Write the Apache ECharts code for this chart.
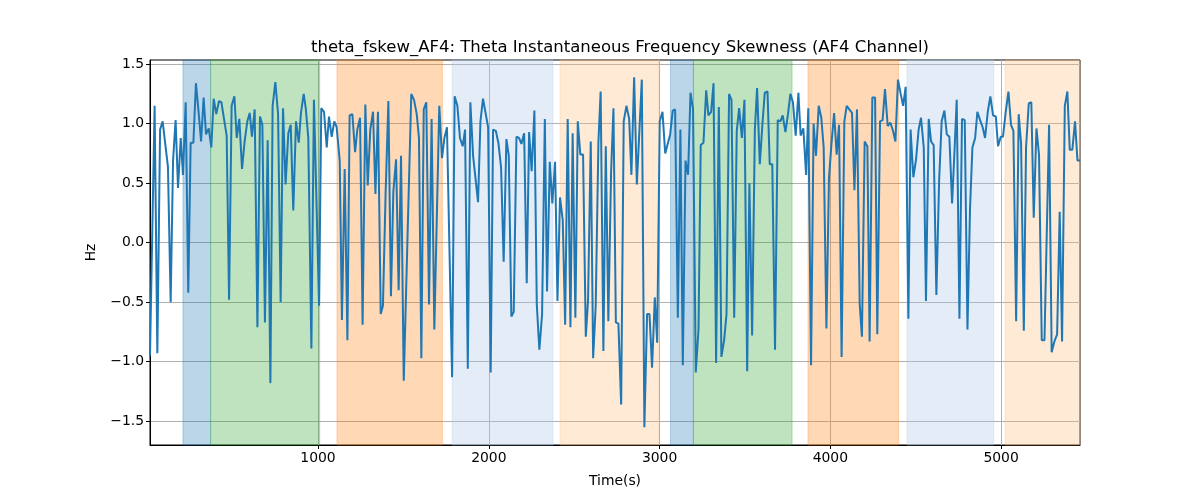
<!DOCTYPE html>
<html>
<head>
<meta charset="utf-8">
<script src="https://cdn.jsdelivr.net/npm/echarts@6/dist/echarts.min.js"></script>
<style>html,body{margin:0;padding:0;background:#fff}#c{width:1200px;height:500px}</style>
</head>
<body>
<div id="c"></div>
<script>
const times = [16,43,59,75,90,121,137,151,166,180,196,209,225,240,254,270,285,301,315,330,344,360,375,389,404,420,434,465,479,494,510,524,539,555,570,586,600,613,629,645,660,674,689,705,721,734,750,766,781,795,810,826,840,855,871,887,900,916,
928,943,961,976,1006,1019,1035,1051,1064,1080,1095,1109,1127,1140,1156,1172,1185,1201,1217,1230,1246,1261,1277,1291,1306,1322,1336,1351,1367,1380,1396,1412,1427,1441,1457,1472,1486,1502,1546,1562,1578,1591,1605,1619,1634,1650,1665,1681,1710,1726,1740,1755,1785,1800,1816,1831,
1847,1861,1877,1892,1908,1937,1951,1966,1996,2011,2025,2041,2056,2072,2087,2103,2117,2132,2146,2162,2177,2191,2207,2222,2236,2251,2267,2281,2296,2312,2328,2341,2357,2372,2388,2402,2417,2433,2447,2462,2478,2491,2507,2521,2536,2552,2568,2581,2597,2611,2626,2642,2655,2671,2685,2700,2716,2730,
2744,2759,2775,2790,2806,2822,2835,2851,2867,2896,2911,2927,2941,2956,2972,2986,3001,3017,3033,3062,3077,3091,3107,3122,3136,3152,3167,3181,3196,3212,3228,3241,3257,3273,3286,3302,3316,3331,3347,3362,3378,3392,3407,3421,3437,3452,3466,3482,3497,3513,3526,3542,3558,3571,3587,3603,3616,3632,3645,
3660,3676,3692,3707,3721,3737,3752,3766,3781,3797,3813,3826,3842,3858,3871,3887,3902,3916,3932,3947,3961,3977,3992,4006,4022,4037,4051,4066,4082,4096,4111,4127,4141,4156,4172,4185,4201,4217,4230,4246,4262,4275,4291,4306,4320,4336,4351,4367,4381,4396,4412,4426,4441,4457,4470,4486,4502,4517,4531,4547,4560,
4576,4590,4605,4621,4637,4652,4668,4682,4697,4713,4728,4740,4756,4771,4787,4803,4818,4832,4848,4861,4877,4892,4906,4922,4937,4953,4969,4982,4998,5011,5027,5043,5058,5072,5088,5103,5117,5133,5146,5162,5177,5191,5207,5222,5238,5254,5281,5296,5312,5328,5343,5357,5373,5388,5402,5417,5433,5447,5462];

const values = [-0.95,1.15,-0.93,0.95,1.02,0.64,-0.50,0.69,1.03,0.46,0.88,0.57,1.18,-0.42,0.84,0.84,1.34,1.09,0.85,1.22,0.91,0.96,0.80,1.21,1.08,1.19,1.18,0.90,-0.48,1.15,1.23,0.88,1.04,0.62,0.85,1.02,1.09,0.89,1.12,-0.71,1.06,0.99,-0.67,0.86,-1.18,1.15,1.35,1.08,-0.50,1.13,0.49,0.92,0.99,0.27,1.02,0.84,1.09,1.25,
1.13,0.88,-0.89,1.20,-0.53,1.13,1.10,0.80,1.06,0.89,1.02,0.97,0.69,-0.65,0.62,-0.82,1.07,1.08,0.76,0.95,1.05,-0.69,1.16,0.48,0.95,1.10,0.41,1.10,-0.60,-0.53,0.43,1.19,-0.45,0.43,0.70,-0.40,0.73,-1.16,1.25,1.20,1.08,0.88,-0.97,1.12,1.18,-0.52,1.04,-0.73,1.15,0.71,0.88,0.97,-1.13,1.23,1.15,0.88,
0.81,0.95,-1.06,1.18,0.73,0.34,1.02,1.21,0.97,-1.09,0.95,0.94,0.84,0.63,-0.16,0.87,0.73,-0.62,-0.58,0.89,0.88,0.83,0.92,-0.34,0.93,0.60,1.11,-0.52,-0.90,-0.60,1.04,-0.41,0.68,0.33,0.68,-0.49,0.38,0.19,-0.69,1.04,-0.71,0.92,-0.63,1.02,0.74,0.74,-0.79,-0.49,0.85,-0.97,-0.53,0.85,1.27,-0.91,0.81,-0.66,0.59,1.13,
-0.67,-0.68,-1.36,1.02,1.15,1.04,0.57,1.39,0.49,1.37,-1.55,-0.60,-0.60,-1.05,-0.46,-0.84,1.02,1.10,0.75,0.91,1.11,1.12,-0.63,0.95,-1.03,0.69,0.57,1.26,1.12,-1.09,-0.73,0.82,0.84,1.28,1.07,1.10,1.34,-1.01,1.14,-0.96,-0.82,-0.60,1.25,1.20,-0.63,0.94,1.13,0.88,1.20,-1.08,0.50,-0.78,0.95,1.30,0.66,1.01,1.26,1.27,0.66,
0.66,-0.90,1.03,1.02,1.07,0.93,1.08,1.25,1.18,0.90,1.26,0.90,0.96,0.57,1.13,-1.03,1.00,0.73,1.15,1.05,0.80,-0.72,0.54,0.82,1.09,0.74,0.99,-0.96,1.02,1.15,1.12,1.09,0.44,1.12,-0.52,-0.79,0.85,0.81,-0.83,1.22,1.22,-0.77,1.02,1.03,1.29,0.98,1.01,0.94,0.85,1.37,1.25,1.15,1.31,-0.64,0.95,0.55,0.70,0.95,1.05,0.80,-0.49,
1.04,0.85,0.82,-0.44,0.52,1.02,1.11,0.91,0.89,0.33,0.80,1.20,-0.64,1.04,1.03,-0.73,0.29,0.80,0.88,1.10,1.03,0.97,0.88,1.10,1.23,1.07,1.06,0.81,0.89,0.89,1.10,1.27,0.99,0.94,-0.66,1.08,0.83,-0.74,0.80,1.17,1.18,0.21,0.96,0.74,-0.82,-0.82,0.99,-0.92,-0.83,-0.77,0.26,-0.83,1.15,1.27,0.78,0.78,1.02,0.69,0.69];

const bandStarts = [209, 371, 1111, 1785, 2417, 3064, 3198, 3869, 4449, 5023];
const bandEnds   = [371, 1010, 1728, 2376, 2995, 3198, 3776, 4400, 4957, 5462];
const bandColors = ['rgba(31,119,180,0.3)','rgba(44,160,44,0.3)','rgba(255,127,14,0.3)','rgba(174,199,232,0.33)','rgba(255,187,120,0.3)',
                    'rgba(31,119,180,0.3)','rgba(44,160,44,0.3)','rgba(255,127,14,0.3)','rgba(174,199,232,0.33)','rgba(255,187,120,0.3)'];

const xTicks = [1000, 2000, 3000, 4000, 5000];
const yTicks = [-1.5, -1.0, -0.5, 0.0, 0.5, 1.0, 1.5];

const data = times.map((t, i) => [t, values[i]]);
const areas = bandStarts.map((s, i) => [
  {xAxis: s, itemStyle: {color: bandColors[i], borderColor: bandColors[i], borderWidth: 1}},
  {xAxis: bandEnds[i]}
]);

const chart = echarts.init(document.getElementById('c'), null, {renderer: 'canvas'});
const font = 'DejaVu Sans';
chart.setOption({
  animation: false,
  backgroundColor: '#fff',
  title: {
    text: 'theta_fskew_AF4: Theta Instantaneous Frequency Skewness (AF4 Channel)',
    left: 615, top: 34, textAlign: 'center',
    textStyle: {fontFamily: font, fontSize: 16.5, fontWeight: 'normal', color: '#000'}
  },
  grid: {left: 150, right: 120, top: 60, bottom: 55, show: true, borderColor: '#000', borderWidth: 1, backgroundColor: 'transparent'},
  xAxis: {
    type: 'value', min: 16, max: 5462,
    name: 'Time(s)', nameLocation: 'middle', nameGap: 29,
    nameTextStyle: {fontFamily: font, fontSize: 13.9, color: '#000'},
    axisLine: {show: true, onZero: false, lineStyle: {color: '#000', width: 1}},
    axisTick: {show: true, length: 4, inside: false, customValues: xTicks, lineStyle: {color: '#000'}},
    axisLabel: {customValues: xTicks, fontFamily: font, fontSize: 13.9, color: '#000', margin: 6,
      formatter: v => String(v)},
    splitLine: {show: true, lineStyle: {color: '#b0b0b0', width: 1}}
  },
  yAxis: {
    type: 'value', min: -1.70, max: 1.535,
    name: 'Hz', nameLocation: 'middle', nameGap: 52, nameRotate: 90,
    nameTextStyle: {fontFamily: font, fontSize: 13.9, color: '#000'},
    axisLine: {show: true, onZero: false, lineStyle: {color: '#000', width: 1}},
    axisTick: {show: true, length: 4, inside: false, customValues: yTicks, lineStyle: {color: '#000'}},
    axisLabel: {customValues: yTicks, fontFamily: font, fontSize: 13.9, color: '#000', margin: 6,
      formatter: v => v.toFixed(1).replace('-', '\u2212')},
    splitLine: {show: true, lineStyle: {color: '#b0b0b0', width: 1}}
  },
  series: [{
    type: 'line', data: data, showSymbol: false, symbol: 'none',
    lineStyle: {color: '#1f77b4', width: 2},
    itemStyle: {color: '#1f77b4'},
    markArea: {silent: true, data: areas},
    z: 3
  }]
});
</script>
</body>
</html>
